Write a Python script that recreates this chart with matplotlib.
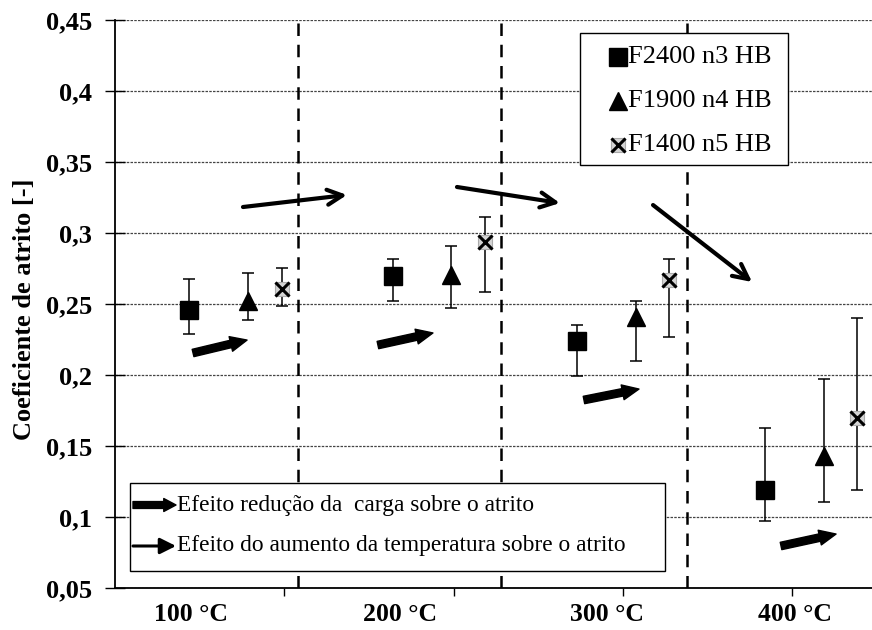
import matplotlib
matplotlib.use('Agg')
import matplotlib.pyplot as plt
from matplotlib.patches import Rectangle
import numpy as np

# ---------------- data ----------------
temp_labels = ['100 °C', '200 °C', '300 °C', '400 °C']
group_x = [0.44, 1.64, 2.73, 3.84]          # x position of each temperature group

series_names = ['F2400 n3 HB', 'F1900 n4 HB', 'F1400 n5 HB']

f2400_mean = [0.246, 0.270, 0.224, 0.119]
f2400_low = [0.229, 0.252, 0.199, 0.097]
f2400_high = [0.2675, 0.2816, 0.235, 0.163]

f1900_mean = [0.252, 0.2707, 0.241, 0.143]
f1900_low = [0.2388, 0.2472, 0.210, 0.1105]
f1900_high = [0.2718, 0.2907, 0.252, 0.197]

f1400_mean = [0.2605, 0.294, 0.267, 0.170]
f1400_low = [0.2486, 0.2584, 0.227, 0.119]
f1400_high = [0.2753, 0.311, 0.282, 0.240]

note_labels = ['Efeito redução da  carga sobre o atrito',
               'Efeito do aumento da temperatura sobre o atrito']
y_label = 'Coeficiente de atrito [-]'
y_ticks = [0.05, 0.10, 0.15, 0.20, 0.25, 0.30, 0.35, 0.40, 0.45]

# ---------------- layout / style ----------------
series_offset = [0.0, 0.345, 0.545]
temp_label_x = [0.449, 1.683, 2.906, 4.016]
divider_x = [1.081, 2.28, 3.379]
temp_arrows = [((0.756, 0.3183), (1.370, 0.3268)),
               ((2.020, 0.3324), (2.628, 0.3211)),
               ((3.178, 0.3197), (3.763, 0.2655))]
load_arrows = [((0.461, 0.2155), (0.780, 0.2246)),
               ((1.553, 0.2211), (1.878, 0.2296)),
               ((2.770, 0.1824), (3.095, 0.1901)),
               ((3.934, 0.0796), (4.259, 0.0880))]

plt.rcParams['font.family'] = ['Liberation Serif', 'DejaVu Serif']

W, H = 872, 630
fig = plt.figure(figsize=(W / 100, H / 100), dpi=100)
ax_l, ax_r, ax_t, ax_b = 115, 872, 20, 588
ax = fig.add_axes([ax_l / W, 1 - ax_b / H, (ax_r - ax_l) / W, (ax_b - ax_t) / H])
unit_px = 169.3
ax.set_xlim(0, (ax_r - ax_l) / unit_px)
ax.set_ylim(0.05, 0.45)

for s in ['top', 'right']:
    ax.spines[s].set_visible(False)
for s in ['left', 'bottom']:
    ax.spines[s].set_linewidth(1.3)
    ax.spines[s].set_zorder(6)

ax.set_axisbelow(True)
ax.set_yticks(y_ticks)
ax.set_yticklabels([('%.2f' % v).rstrip('0').replace('.', ',') for v in y_ticks],
                   fontsize=19, fontweight='bold')
ax.tick_params(axis='y', direction='inout', length=15, width=1, pad=9)
ax.yaxis.grid(True, color='#444444', linewidth=0.9, linestyle=(0, (2.0, 1.0)))

ax.set_xticks([1, 2, 3, 4])
ax.set_xticklabels([])
ax.tick_params(axis='x', which='major', direction='out', length=6, width=1)
ax.set_xticks(temp_label_x, minor=True)
ax.set_xticklabels(temp_labels, minor=True, fontsize=18.5, fontweight='bold')
ax.tick_params(axis='x', which='minor', length=0, pad=11)

ax.set_ylabel(y_label, fontsize=19, fontweight='bold')
ax.yaxis.set_label_coords(-0.105, 0.49)

for xv in divider_x:
    ax.axvline(xv, color='black', linewidth=1.8, linestyle=(0, (5, 3.5)), zorder=1.5)

series = [(f2400_mean, f2400_low, f2400_high),
          (f1900_mean, f1900_low, f1900_high),
          (f1400_mean, f1400_low, f1400_high)]


def draw_marker(kind, x, y, transform=None, clip=True, z=4):
    kw = {} if transform is None else {'transform': transform}
    if kind == 0:
        ax.plot(x, y, linestyle='none', marker='s', markersize=12.5, color='black',
                zorder=z, clip_on=clip, **kw)
    elif kind == 1:
        ax.plot(x, y, linestyle='none', marker='^', markersize=13.5, color='black',
                zorder=z, clip_on=clip, **kw)
    else:
        ax.plot(x, y, linestyle='none', marker='s', markersize=10.5,
                markerfacecolor='#d4d4d4', markeredgecolor='#aaaaaa', markeredgewidth=0.8,
                zorder=z, clip_on=clip, **kw)
        ax.plot(x, y, linestyle='none', marker='x', markersize=10, markeredgewidth=2.2,
                color='black', zorder=z + 0.1, clip_on=clip, **kw)


for k, (mean, low, high) in enumerate(series):
    xs = np.array(group_x) + series_offset[k]
    mean = np.array(mean)
    err = [mean - np.array(low), np.array(high) - mean]
    ax.errorbar(xs, mean, yerr=err, fmt='none', ecolor='black', elinewidth=1.1,
                capsize=4, capthick=1.1, zorder=3, clip_on=False)
    draw_marker(k, xs, mean, clip=False)

# temperature-effect arrows
for (x0, y0), (x1, y1) in temp_arrows:
    ax.annotate('', xy=(x1, y1), xytext=(x0, y0),
                arrowprops=dict(arrowstyle='->,head_length=0.9,head_width=0.45',
                                lw=3.0, color='black', mutation_scale=12,
                                shrinkA=0, shrinkB=0), zorder=4)
# load-effect arrows
for (x0, y0), (x1, y1) in load_arrows:
    ax.annotate('', xy=(x1, y1), xytext=(x0, y0),
                arrowprops=dict(arrowstyle='simple,head_length=1.0,head_width=0.9,tail_width=0.45',
                                color='black', mutation_scale=12,
                                shrinkA=0, shrinkB=0), zorder=4)


def px_to_axes(px, py):
    return (px - ax_l) / (ax_r - ax_l), (ax_b - py) / (ax_b - ax_t)


# ---- series legend box (top right) ----
x0, y0 = px_to_axes(580, 165)
x1, y1 = px_to_axes(788, 33)
ax.add_patch(Rectangle((x0, y0), x1 - x0, y1 - y0, transform=ax.transAxes,
                       facecolor='white', edgecolor='black', linewidth=1.0, zorder=7,
                       clip_on=False))
for k, (name, py) in enumerate(zip(series_names, [57, 101, 145])):
    mx, my = px_to_axes(618, py)
    tx, _ = px_to_axes(628, py)
    draw_marker(k, [mx], [my], transform=ax.transAxes, clip=False, z=8)
    ax.text(tx, my, name, transform=ax.transAxes, fontsize=19, ha='left', va='center',
            zorder=8)

# ---- notes box (bottom left) ----
x0, y0 = px_to_axes(130, 571)
x1, y1 = px_to_axes(665, 483)
ax.add_patch(Rectangle((x0, y0), x1 - x0, y1 - y0, transform=ax.transAxes,
                       facecolor='white', edgecolor='black', linewidth=1.0, zorder=7,
                       clip_on=False))
for k, (note, py) in enumerate(zip(note_labels, [505, 546])):
    ax0, ay = px_to_axes(133, py)
    ax1, _ = px_to_axes(176, py)
    tx, _ = px_to_axes(177, py)
    if k == 0:
        style = 'simple,head_length=0.8,head_width=0.85,tail_width=0.45'
        props = dict(arrowstyle=style, color='black', mutation_scale=11, shrinkA=0, shrinkB=0)
    else:
        style = '-|>,head_length=0.8,head_width=0.4'
        props = dict(arrowstyle=style, color='black', lw=2.2, mutation_scale=12,
                     shrinkA=0, shrinkB=0)
    ax.annotate('', xy=(ax1, ay), xytext=(ax0, ay), xycoords='axes fraction',
                textcoords='axes fraction', arrowprops=props, zorder=8)
    ax.text(tx, ay, note, transform=ax.transAxes, fontsize=16.8, ha='left', va='center',
            zorder=8)

fig.savefig('out.png', dpi=100)
